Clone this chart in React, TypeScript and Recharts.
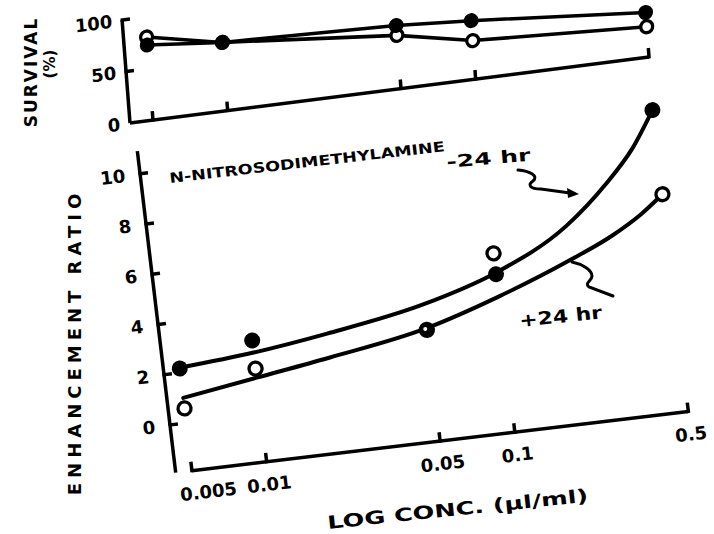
import React from 'react';
import { LineChart, Line, XAxis, YAxis, ReferenceLine } from 'recharts';

const FONT = '"DejaVu Sans", Verdana, sans-serif';

// concentrations (µl/ml) at which measurements were made
const concentrations = [0.005, 0.01, 0.05, 0.1, 0.5];
const xTicks = [0.005, 0.01, 0.05, 0.1, 0.5];
const xTickLabels = ['0.005', '0.01', '0.05', '0.1', '0.5'];
const survivalTicks = [0, 50, 100];
const erTicks = [0, 2, 4, 6, 8, 10];

// survival (%)
const survivalMinus24 = [72.9, 66.2, 61.2, 56.7, 43.2];
const survivalPlus24 = [80.6, 66.2, 51.6, 37.3, 29.4];

// enhancement ratio, measured points
const erMinus24 = [2.17, 2.93, 2.53, 4.39, 10.1];
const erPlus24 = [0.58, 1.81, 2.53, 5.22, 6.75];

// hand-drawn fitted curves
const fitConc = [0.005, 0.01, 0.02, 0.05, 0.1, 0.2, 0.3, 0.4, 0.5];
const fitMinus24 = [2.2, 2.45, 2.85, 3.55, 4.45, 5.95, 7.4, 8.7, 10.1];
const fitPlus24 = [1.0, 1.45, 1.9, 2.6, 3.5, 4.6, 5.35, 6.05, 6.75];

const survivalTable = concentrations.map((c, i) => ({
  conc: c,
  minus24: survivalMinus24[i],
  plus24: survivalPlus24[i],
}));

const erTable = fitConc.map((c, i) => {
  const j = concentrations.indexOf(c);
  return {
    conc: c,
    fitMinus24: fitMinus24[i],
    fitPlus24: fitPlus24[i],
    erMinus24: j >= 0 ? erMinus24[j] : null,
    erPlus24: j >= 0 ? erPlus24[j] : null,
  };
});

const makeXTick = (withLabels: boolean) => (props: any) => {
  const { x, y, payload, index } = props;
  const k = xTicks.indexOf(payload.value);
  const label = k >= 0 ? xTickLabels[k] : String(payload.value);
  const shift = k === 0 ? 14 : 0;
  return (
    <g key={`xt-${index}`}>
      <line x1={x} y1={y + 1.5} x2={x} y2={y - 9} stroke="#000" strokeWidth={3.5} />
      {withLabels && (
        <text x={x + shift} y={y + 29} textAnchor="middle" fontFamily={FONT} fontWeight={700} fontSize={18} fill="#000">
          {label}
        </text>
      )}
    </g>
  );
};

const makeYTick = (gap: number, drawZero: boolean) => (props: any) => {
  const { x, y, payload, index } = props;
  return (
    <g key={`yt-${index}`}>
      {(drawZero || payload.value !== 0) && (
        <line x1={x - 1.5} y1={y} x2={x + 8} y2={y} stroke="#000" strokeWidth={3.5} />
      )}
      <text x={x - gap} y={y + 6.5} textAnchor="end" fontFamily={FONT} fontWeight={700} fontSize={18} fill="#000">
        {payload.value}
      </text>
    </g>
  );
};

const filledDot = (r: number) => (props: any) => {
  const { cx, cy, index, value } = props;
  if (value == null || cx == null || cy == null) return <g key={`fn-${index}`} />;
  return <circle key={`fd-${index}`} cx={cx} cy={cy} r={r} fill="#000" stroke="none" />;
};

const openDot = (r: number) => (props: any) => {
  const { cx, cy, index, value } = props;
  if (value == null || cx == null || cy == null) return <g key={`on-${index}`} />;
  return <circle key={`od-${index}`} cx={cx} cy={cy} r={r} fill="#fff" stroke="#000" strokeWidth={3.3} />;
};

const erMinusDot = (props: any) => {
  const { cx, cy, index, value, payload } = props;
  if (value == null || cx == null || cy == null) return <g key={`mn-${index}`} />;
  if (payload && payload.erPlus24 === payload.erMinus24) {
    return (
      <g key={`mh-${index}`}>
        <circle cx={cx} cy={cy} r={7} fill="#000" />
        <circle cx={cx - 1.5} cy={cy - 1} r={2} fill="#fff" />
      </g>
    );
  }
  return <circle key={`md-${index}`} cx={cx} cy={cy} r={8} fill="#000" />;
};

function SurvivalChart() {
  return (
    <div
      style={{
        position: 'absolute',
        left: 0,
        top: 0,
        width: 714,
        height: 160,
        transform: 'matrix(0.992, -0.1262, 0.0767, 0.997, 0, 0)',
        transformOrigin: '130px 123px',
      }}
    >
      <LineChart width={714} height={160} data={survivalTable} margin={{ top: 19.7, right: 60.8, bottom: 27, left: 80 }}>
        <XAxis
          dataKey="conc"
          type="number"
          scale="log"
          domain={[0.00404, 0.5]}
          ticks={xTicks}
          height={10}
          tickSize={0}
          tickMargin={0}
          tickLine={false}
          axisLine={{ stroke: '#000', strokeWidth: 3.5 }}
          tick={makeXTick(false)}
          interval={0}
        />
        <YAxis
          type="number"
          domain={[0, 100]}
          ticks={survivalTicks}
          width={50}
          tickSize={0}
          tickMargin={0}
          tickLine={false}
          axisLine={{ stroke: '#000', strokeWidth: 3.5 }}
          tick={makeYTick(10, false)}
          interval={0}
        />
        <Line
          dataKey="plus24"
          type="linear"
          stroke="#000"
          strokeWidth={3.5}
          dot={openDot(6)}
          activeDot={false}
          isAnimationActive={false}
        />
        <Line
          dataKey="minus24"
          type="linear"
          stroke="#000"
          strokeWidth={3.5}
          dot={filledDot(7.5)}
          activeDot={false}
          isAnimationActive={false}
        />
      </LineChart>
    </div>
  );
}

function EnhancementChart() {
  return (
    <div
      style={{
        position: 'absolute',
        left: 0,
        top: 0,
        width: 714,
        height: 534,
        transform: 'rotate(-6.8deg)',
        transformOrigin: '170px 425px',
      }}
    >
      <LineChart width={714} height={534} data={erTable} margin={{ top: 149.2, right: 27.7, bottom: 21, left: 120 }}>
        <XAxis
          dataKey="conc"
          type="number"
          scale="log"
          domain={[0.0043, 0.5]}
          ticks={xTicks}
          height={40}
          tickSize={0}
          tickMargin={0}
          tickLine={false}
          axisLine={false}
          tick={makeXTick(true)}
          interval={0}
        />
        <YAxis
          type="number"
          domain={[-1.9, 10.9]}
          ticks={erTicks}
          width={50}
          tickSize={0}
          tickMargin={0}
          tickLine={false}
          axisLine={{ stroke: '#000', strokeWidth: 3.5 }}
          tick={makeYTick(15, true)}
          interval={0}
        />
        <ReferenceLine
          segment={[
            { x: 0.005, y: -1.9 },
            { x: 0.5, y: -1.9 },
          ]}
          stroke="#000"
          strokeWidth={3.5}
          ifOverflow="visible"
        />
        <Line
          dataKey="fitPlus24"
          type="monotone"
          stroke="#000"
          strokeWidth={4}
          strokeLinecap="round"
          dot={false}
          activeDot={false}
          connectNulls
          isAnimationActive={false}
        />
        <Line
          dataKey="fitMinus24"
          type="monotone"
          stroke="#000"
          strokeWidth={4}
          strokeLinecap="round"
          dot={false}
          activeDot={false}
          connectNulls
          isAnimationActive={false}
        />
        <Line
          dataKey="erPlus24"
          stroke="none"
          dot={openDot(6.5)}
          activeDot={false}
          connectNulls
          isAnimationActive={false}
        />
        <Line
          dataKey="erMinus24"
          stroke="none"
          dot={erMinusDot}
          activeDot={false}
          connectNulls
          isAnimationActive={false}
        />
      </LineChart>
    </div>
  );
}

function Annotations() {
  const t = { fontFamily: FONT, fontWeight: 700, fill: '#000' } as const;
  return (
    <svg width={714} height={534} style={{ position: 'absolute', left: 0, top: 0, pointerEvents: 'none' }}>
      <text {...t} fontSize={17} textAnchor="middle" transform="translate(37,72) rotate(-90)" letterSpacing={2}>
        SURVIVAL
      </text>
      <text {...t} fontSize={15} textAnchor="middle" transform="translate(55,64) rotate(-90)">
        (%)
      </text>
      <text {...t} fontSize={18} textAnchor="middle" transform="translate(81,342) rotate(-90)" letterSpacing={5}>
        ENHANCEMENT  RATIO
      </text>
      <text {...t} fontSize={14} x={170} y={183} transform="rotate(-6.6 170 183)" textLength={277} lengthAdjust="spacingAndGlyphs">
        N-NITROSODIMETHYLAMINE
      </text>
      <text {...t} fontSize={17} x={447} y={168} transform="rotate(-5 447 168)" textLength={84} lengthAdjust="spacingAndGlyphs">
        -24 hr
      </text>
      <text {...t} fontSize={18} x={520} y={327} transform="rotate(-6 520 327)" textLength={83} lengthAdjust="spacingAndGlyphs">
        +24 hr
      </text>
      <text {...t} fontSize={18} x={328} y={529} transform="rotate(-6 328 529)" textLength={262} lengthAdjust="spacingAndGlyphs">
        LOG  CONC. (µl/ml)
      </text>
      <path
        d="M518,170 C530,171 539,176 533,181 C527,185 530,189 541,189 L570,193"
        fill="none"
        stroke="#000"
        strokeWidth={3}
        strokeLinecap="round"
      />
      <polygon points="579,194 567,188 568,198" fill="#000" />
      <path
        d="M572,262 C582,264 592,270 592,276 C592,281 584,283 589,287 L613,296"
        fill="none"
        stroke="#000"
        strokeWidth={3}
        strokeLinecap="round"
      />
    </svg>
  );
}

export default function App() {
  return (
    <div
      style={{
        position: 'absolute',
        left: 0,
        top: 0,
        width: 714,
        height: 534,
        overflow: 'hidden',
        background: '#fff',
      }}
    >
      <SurvivalChart />
      <EnhancementChart />
      <Annotations />
    </div>
  );
}
